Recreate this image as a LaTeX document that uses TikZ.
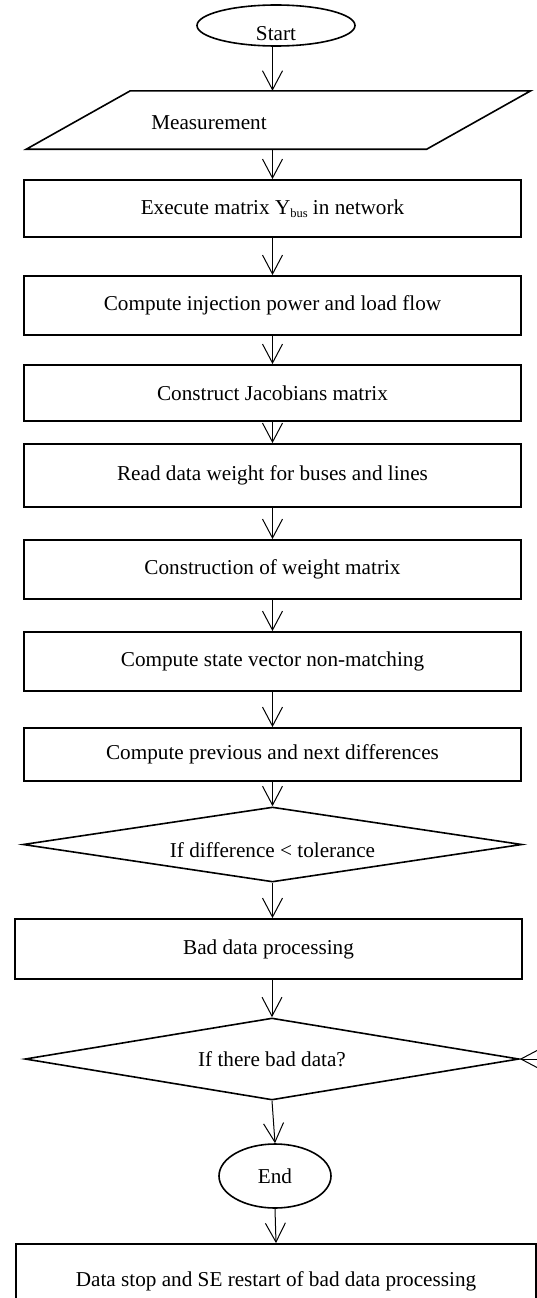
\documentclass[tikz,border=0pt]{standalone}
\usepackage{fontspec}
\setmainfont{Liberation Serif}
\usetikzlibrary{arrows.meta,shapes.geometric}
\begin{document}
\begin{tikzpicture}[x=1pt,y=-1pt,
  every node/.style={font=\fontsize{21.2}{25}\selectfont},
  proc/.style={draw, line width=1.8pt, minimum width=497pt, inner sep=0pt},
  term/.style={draw, ellipse, line width=1.6pt, inner sep=0pt},
  decision/.style={draw, diamond, aspect=6, line width=1.6pt, inner sep=0pt},
  arr/.style={line width=1pt, -{Straight Barb[length=19pt,width=20pt]}},
]
\path[use as bounding box, clip] (0,0) rectangle (537,1298);

% terminals
\node[term, minimum width=158pt, minimum height=41pt] (start) at (276,25.5) {};
\node (starttext) at (276,34) {Start};

% input / measurement
\node[minimum width=400pt, minimum height=58pt, inner sep=0pt] (meas) at (278.5,120) {};
\draw[line width=1.6pt] ([xshift=52pt]meas.north west) -- ([xshift=52pt]meas.north east)
  -- ([xshift=-52pt]meas.south east) -- ([xshift=-52pt]meas.south west) -- cycle;
\node (meastext) at (209,123) {Measurement};

% process boxes
\node[proc, minimum height=57pt] (b1) at (272.5,208.5) {Execute matrix Y\raisebox{-3pt}{\fontsize{12.5}{14}\selectfont bus} in network};
\node[proc, minimum height=59pt] (b2) at (272.5,305.5) {Compute injection power and load flow};
\node[proc, minimum height=56pt] (b3) at (272.5,393) {Construct Jacobians matrix};
\node[proc, minimum height=63pt] (b4) at (272.5,475.5) {Read data weight for buses and lines};
\node[proc, minimum height=59pt] (b5) at (272.5,569.5) {Construction of weight matrix};
\node[proc, minimum height=59pt] (b6) at (272.5,661.5) {Compute state vector non-matching};
\node[proc, minimum height=53pt] (b7) at (272.5,754.5) {Compute previous and next differences};

% first decision
\node[decision, minimum width=499pt, minimum height=75pt] (d1) at (272.5,844.5) {};
\node (d1text) at (272.5,850) {If difference < tolerance};

\node[proc, minimum width=507pt, minimum height=60pt] (b8) at (268.5,949) {Bad data processing};

% second decision
\node[decision, minimum width=494pt, minimum height=82pt] (d2) at (272,1059) {If there bad data?};

\node[term, minimum width=112pt, minimum height=64pt] (end) at (275,1176) {End};

\node[proc, minimum width=520pt, minimum height=74pt] (b9) at (276,1281) {Data stop and SE restart of bad data processing};

\coordinate (loopin) at (570,1059);

% connectors
\draw[arr] (start.south -| b1.north) -- (meas.north -| b1.north);
\draw[arr] (meas.south -| b1.north) -- (b1.north);
\draw[arr] (b1) -- (b2);
\draw[arr] (b2) -- (b3);
\draw[arr] (b3) -- (b4);
\draw[arr] (b4) -- (b5);
\draw[arr] (b5) -- (b6);
\draw[arr] (b6) -- (b7);
\draw[arr] (b7) -- (d1);
\draw[arr] (d1.south) -- (d1.south |- b8.north);
\draw[arr] (b8.south -| d2.north) -- (d2.north);
\draw[arr] (d2.south) -- (end.north);
\draw[arr] (end.south) -- (b9.north);
\draw[arr] (loopin) -- (d2.east);
\end{tikzpicture}
\end{document}
